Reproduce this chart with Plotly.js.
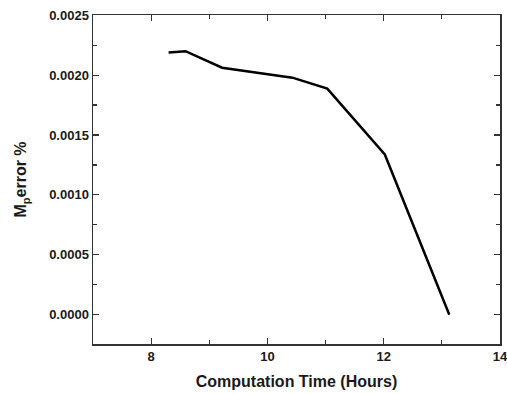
<!DOCTYPE html>
<html>
<head>
<meta charset="utf-8">
<script src="https://cdn.plot.ly/plotly-3.0.1.min.js"></script>
<style>html,body{margin:0;padding:0;background:#fff;}#chart{width:507px;height:394px;}</style>
</head>
<body>
<div id="chart"></div>
<script>
const timeHours = [8.30, 8.42, 8.59, 9.22, 10.43, 11.03, 12.02, 13.13];
const mpError = [0.002188, 0.002192, 0.002200, 0.002062, 0.001979, 0.001887, 0.001337, 0.0000];
const xTicks = [8, 10, 12, 14];
const yTicks = [0.0000, 0.0005, 0.0010, 0.0015, 0.0020, 0.0025];

const font = {family: 'Liberation Sans, Arial, sans-serif', color: '#1a1a1a'};
const trace = {
  x: timeHours, y: mpError, type: 'scatter', mode: 'lines',
  line: {color: '#000', width: 2.5}, hoverinfo: 'skip'
};
const layout = {
  width: 507, height: 394,
  margin: {l: 93, r: 7, t: 15, b: 50},
  paper_bgcolor: '#fff', plot_bgcolor: '#fff',
  showlegend: false,
  font: font,
  xaxis: {
    range: [6.999, 14.002], tickvals: xTicks, ticktext: xTicks.map(String),
    ticklabeloverflow: 'allow',
    ticks: 'inside', ticklen: 6, tickwidth: 1.2, tickcolor: '#333',
    minor: {dtick: 1, tick0: 7, ticks: 'inside', ticklen: 4, tickwidth: 1.2, tickcolor: '#333', showgrid: false},
    showline: true, linecolor: '#333', linewidth: 1.5, mirror: 'allticks',
    showgrid: false, zeroline: false,
    tickfont: {family: font.family, size: 13, color: '#1a1a1a', weight: 'bold'},
    title: {text: '<b>Computation Time (Hours)</b>', font: {family: font.family, size: 16, color: '#1a1a1a'}, standoff: 12}
  },
  yaxis: {
    range: [-0.000245, 0.002502], tickvals: yTicks, ticktext: yTicks.map(v => v.toFixed(4)),
    ticklabeloverflow: 'allow',
    ticks: 'inside', ticklen: 6, tickwidth: 1.2, tickcolor: '#333',
    minor: {dtick: 0.00025, tick0: 0, ticks: 'inside', ticklen: 4, tickwidth: 1.2, tickcolor: '#333', showgrid: false},
    showline: true, linecolor: '#333', linewidth: 1.5, mirror: 'allticks',
    showgrid: false, zeroline: false,
    tickfont: {family: font.family, size: 13, color: '#1a1a1a', weight: 'bold'},
    title: {text: '<b>M<sub>p</sub>error %</b>', font: {family: font.family, size: 16, color: '#1a1a1a'}, standoff: 18}
  }
};
Plotly.newPlot('chart', [trace], layout, {displayModeBar: false, staticPlot: true});
</script>
</body>
</html>
